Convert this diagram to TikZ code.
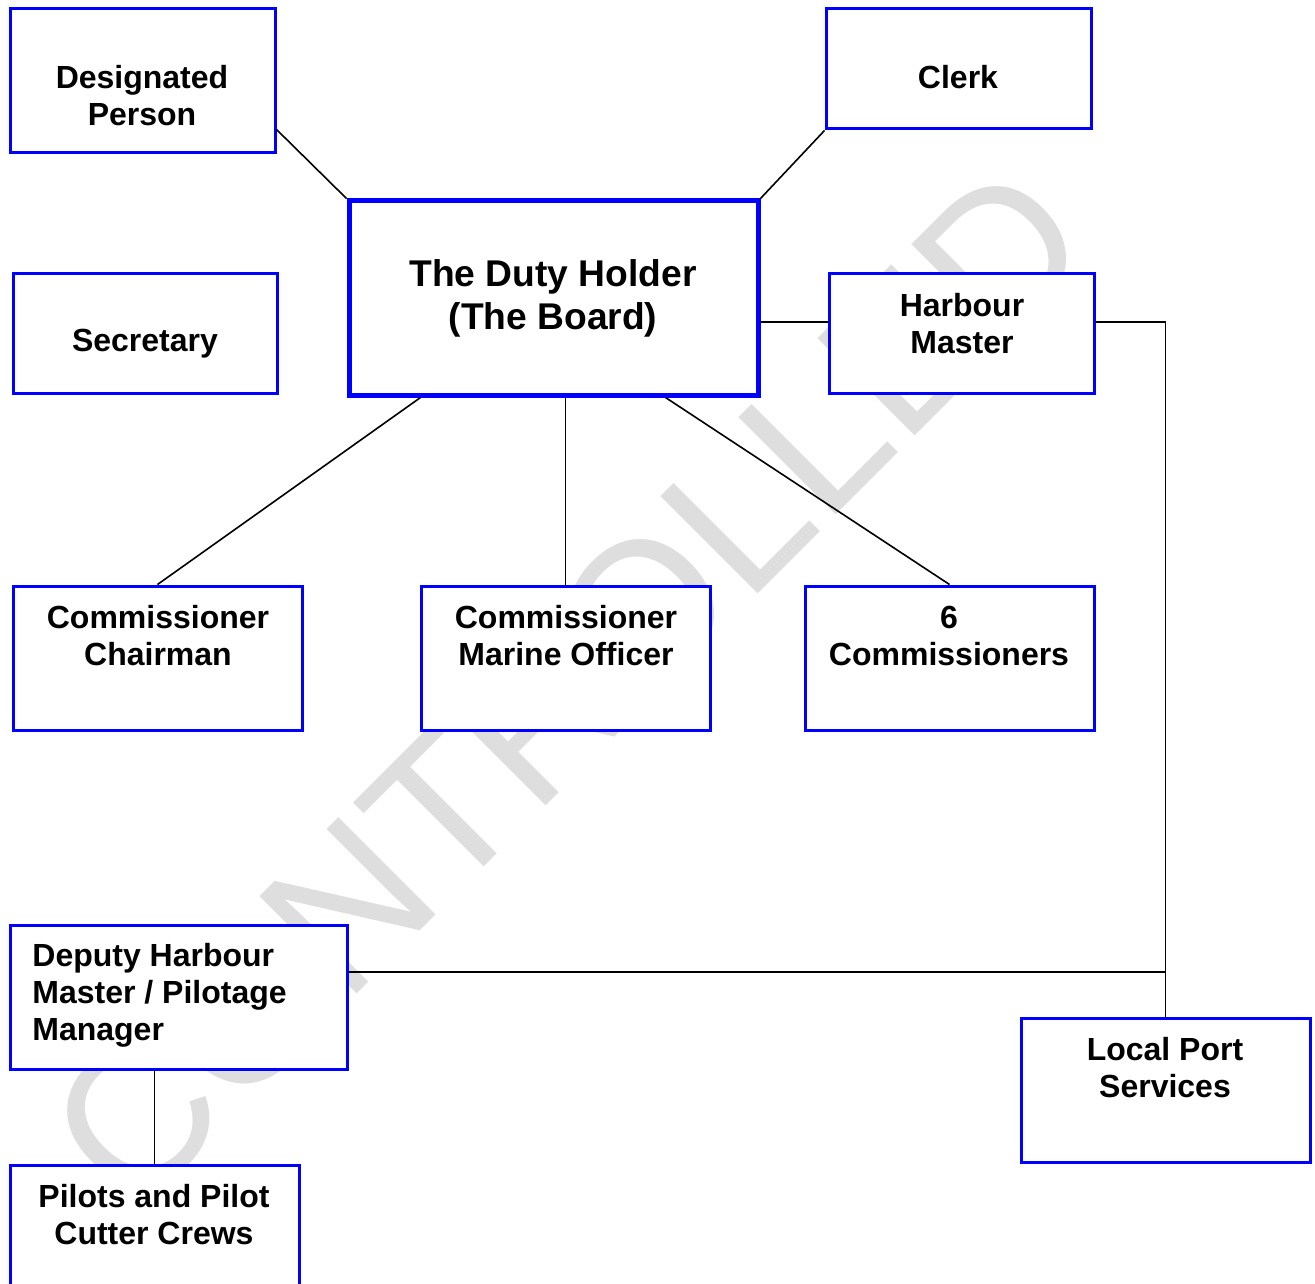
\documentclass[tikz,border=0pt]{standalone}
\usepackage{fontspec}
\setmainfont{Liberation Sans}
\usepackage{tikz}
\usetikzlibrary{positioning, calc}

\begin{document}
\begin{tikzpicture}[
  x=0.5pt, y=-0.5pt,
  box/.style={rectangle, draw=blue, line width=1.5pt, fill=white, inner sep=0pt},
  bigbox/.style={box, line width=2.5pt},
  lbl/.style={align=center, inner sep=0pt, font=\bfseries\fontsize{16}{18.5}\selectfont},
  biglbl/.style={align=center, inner sep=0pt, font=\bfseries\fontsize{18.6}{21.5}\selectfont},
  wm/.style={text=black!13, inner sep=0pt, font=\fontsize{100}{100}\selectfont},
  ln/.style={line width=0.8pt}
]
  \useasboundingbox (0,0) rectangle (1315,1283);

  % Watermark
  \node[wm, rotate=45] (wmark) at (568,686) {CONTROLLED};

  % Boxes
  \node[box, minimum width=132.5pt, minimum height=72pt] (dp) at (142.5,81) {};
  \node[box, minimum width=132.5pt, minimum height=60pt] (clerk) at (958.5,69) {};
  \node[bigbox, minimum width=204.5pt, minimum height=97pt] (duty) at (553.5,298) {};
  \node[box, minimum width=132pt, minimum height=59.5pt] (sec) at (145,333.5) {};
  \node[box, minimum width=132.5pt, minimum height=59.5pt] (hm) at (961.5,333.5) {};
  \node[box, minimum width=144.5pt, minimum height=72pt] (chair) at (157.5,658) {};
  \node[box, minimum width=144.5pt, minimum height=72pt] (mo) at (565.5,658) {};
  \node[box, minimum width=144.5pt, minimum height=72pt] (six) at (949.5,658) {};
  \node[box, minimum width=168.5pt, minimum height=72pt] (dep) at (178.5,997) {};
  \node[box, minimum width=144.5pt, minimum height=72pt] (pil) at (154.5,1237) {};
  \node[box, minimum width=144.5pt, minimum height=72pt] (lps) at (1165.5,1090) {};

  % Labels
  \node[lbl] (dptxt) at (142,96) {Designated\\Person};
  \node[lbl] (clerktxt) at (958,77) {Clerk};
  \node[biglbl] (dutytxt) at (553,298) {The Duty Holder\\(The Board)};
  \node[lbl] (sectxt) at (145,344) {Secretary};
  \node[lbl] (hmtxt) at (962,324) {Harbour\\Master};
  \node[lbl] (chairtxt) at (158,636) {Commissioner\\Chairman};
  \node[lbl] (motxt) at (566,636) {Commissioner\\Marine Officer};
  \node[lbl] (sixtxt) at (949,636) {6\\Commissioners};
  \node[lbl, align=left, anchor=west] (deptxt) at (32,995) {Deputy Harbour\\Master / Pilotage\\Manager};
  \node[lbl] (piltxt) at (154,1215) {Pilots and Pilot\\Cutter Crews};
  \node[lbl] (lpstxt) at (1165,1068) {Local Port\\Services};

  % Connectors
  \coordinate (hmj) at (1165.5,322);
  \coordinate (depj) at (1165.5,972);
  \draw[ln] ($(dp.south east)+(0,-25)$) -- (duty.north west);
  \draw[ln] (clerk.south west) -- (duty.north east);
  \draw[ln] (duty.east |- hmj) -- (hm.west |- hmj);
  \draw[ln] (hm.east |- hmj) -- (hmj) -- (lps.north);
  \draw[ln] (dep.east |- depj) -- (depj);
  \draw[ln] ($(duty.south west)+(74,0)$) -- (chair.north);
  \draw[ln] (mo.north |- duty.south) -- (mo.north);
  \draw[ln] ($(duty.south east)+(-95,0)$) -- (six.north);
  \draw[ln] (pil.north |- dep.south) -- (pil.north);
\end{tikzpicture}
\end{document}
